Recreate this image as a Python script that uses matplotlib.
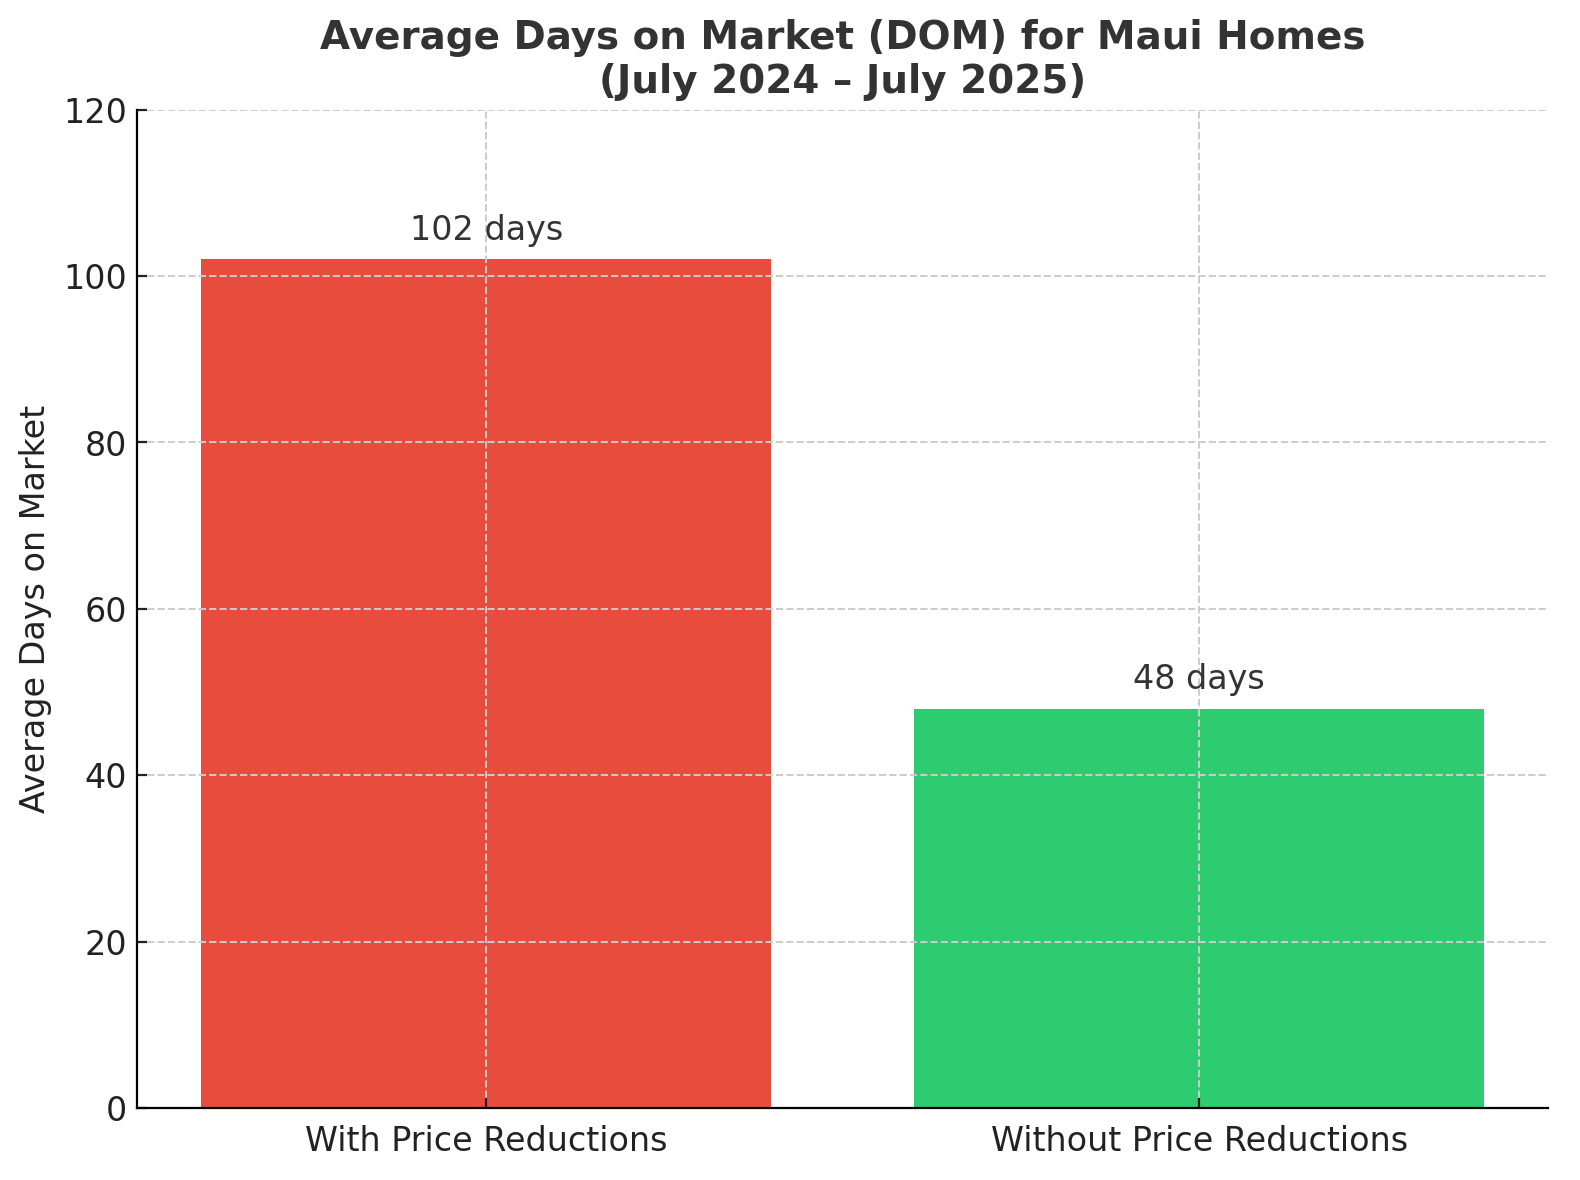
import matplotlib
matplotlib.use("Agg")
import matplotlib.pyplot as plt

categories = ['With Price Reductions', 'Without Price Reductions']
dom_values = [102, 48]
bar_colors = ['#e74c3c', '#2ecc71']

fig, ax = plt.subplots(figsize=(7.9, 5.9), dpi=200)
fig.subplots_adjust(left=0.0867, right=0.98, bottom=0.061, top=0.907)

bars = ax.bar(categories, dom_values, color=bar_colors, width=0.8)

# value labels just above each bar
for b, v in zip(bars, dom_values):
    ax.text(b.get_x() + b.get_width() / 2, v + 1.5, f'{v} days',
            ha='center', va='bottom', fontsize=12, color='#333333')

ax.set_ylim(0, 120)
ax.set_ylabel('Average Days on Market', fontsize=12, color='#222222')
ax.set_title('Average Days on Market (DOM) for Maui Homes\n(July 2024 \u2013 July 2025)',
             fontsize=14, fontweight='bold', color='#333333', pad=6)

ax.grid(True, linestyle='--', color='#cccccc', linewidth=0.7)
ax.tick_params(direction='in', labelsize=12, colors='#222222')
ax.tick_params(axis='x', pad=6)
ax.spines['top'].set_visible(False)
ax.spines['right'].set_visible(False)

fig.savefig('out.png', dpi=200)
